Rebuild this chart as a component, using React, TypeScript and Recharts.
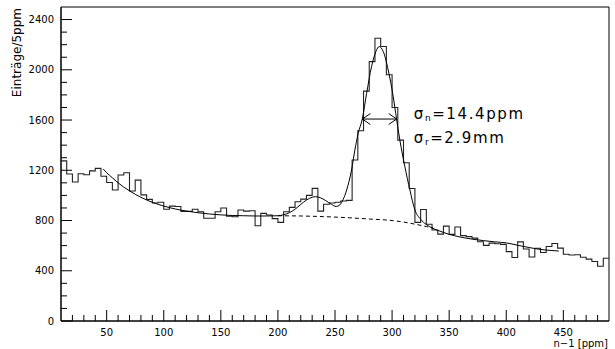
import React from 'react';
import {
  ComposedChart,
  Line,
  XAxis,
  YAxis,
  ReferenceArea,
  ReferenceLine,
  ReferenceDot,
} from 'recharts';

// Histogram bins (lower edges, 5 ppm wide) and entries per bin
const binLow = [
  10, 15, 20, 25, 30, 35, 40, 45, 50, 55, 60, 65, 70, 75, 80, 85, 90, 95,
  100, 105, 110, 115, 120, 125, 130, 135, 140, 145, 150, 155, 160, 165, 170, 175,
  180, 185, 190, 195, 200, 205, 210, 215, 220, 225, 230, 235, 240, 245, 250, 255,
  260, 265, 270, 275, 280, 285, 290, 295, 300, 305, 310, 315, 320, 325, 330, 335,
  340, 345, 350, 355, 360, 365, 370, 375, 380, 385, 390, 395, 400, 405, 410, 415,
  420, 425, 430, 435, 440, 445, 450, 455, 460, 465, 470, 475, 480, 485,
];
const binEnd = 490;
const counts = [
  1275, 1170, 1107, 1172, 1165, 1195, 1215, 1152, 1103, 1043, 1162, 1180, 1035, 1122, 1004, 968, 940, 945,
  890, 915, 912, 873, 873, 890, 870, 818, 818, 870, 900, 834, 830, 884, 875, 878,
  758, 857, 844, 815, 785, 870, 905, 950, 970, 1000, 1056, 875, 930, 940, 945, 955,
  960, 1282, 1515, 1830, 2065, 2251, 2185, 1960, 1700, 1440, 1260, 1055, 785, 888, 770, 725,
  692, 755, 690, 748, 680, 672, 660, 631, 602, 620, 615, 610, 552, 505, 630, 573,
  510, 579, 545, 593, 617, 580, 531, 525, 527, 508, 493, 474, 436, 500,
];

// Fit curve (signal + background)
const fitX = [
  47, 50, 55, 60, 70, 80, 90, 100, 110, 120, 130, 140, 150, 160, 170, 180, 190, 200,
  205, 210, 215, 220, 225, 230, 233, 237, 242, 247, 251, 254.3, 257, 260.2, 264.5, 267.4,
  270.3, 273.9, 277.7, 282, 285.8, 288.7, 292.3, 296.6, 301, 303.9, 306.8, 311.2, 315.6,
  320, 325, 330, 335, 340, 350, 360, 370, 380, 390, 400, 410, 420, 430, 440, 446,
];
const fitY = [
  1210, 1180, 1140, 1100, 1036, 985, 945, 915, 892, 875, 862, 852, 845, 840, 838, 836, 836, 838,
  846, 862, 890, 928, 963, 985, 990, 982, 958, 928, 912, 925, 965, 1043, 1202, 1361,
  1494, 1608, 1813, 2025, 2145, 2185, 2145, 1998, 1786, 1608, 1441, 1229, 1043,
  884, 810, 768, 741, 722, 690, 668, 652, 640, 630, 622, 603, 585, 570, 561, 557,
];

// Background-only part (dashed)
const bgX = [200, 220, 240, 260, 280, 300, 310, 320, 330, 336];
const bgY = [838, 836, 831, 823, 812, 800, 788, 771, 752, 739];

// Axis ticks
const xMajor = [50, 100, 150, 200, 250, 300, 350, 400, 450];
const xTicks = [
  20, 30, 40, 50, 60, 70, 80, 90, 100, 110, 120, 130, 140, 150, 160, 170, 180, 190, 200,
  210, 220, 230, 240, 250, 260, 270, 280, 290, 300, 310, 320, 330, 340, 350, 360, 370,
  380, 390, 400, 410, 420, 430, 440, 450, 460, 470, 480,
];
const yMajor = [0, 400, 800, 1200, 1600, 2000, 2400];
const yTicks = [
  0, 100, 200, 300, 400, 500, 600, 700, 800, 900, 1000, 1100, 1200, 1300, 1400, 1500,
  1600, 1700, 1800, 1900, 2000, 2100, 2200, 2300, 2400,
];

const histData = binLow.map((x, i) => ({ x, y: counts[i] })).concat([{ x: binEnd, y: counts[counts.length - 1] }]);
const fitData = fitX.map((x, i) => ({ x, y: fitY[i] }));
const bgData = bgX.map((x, i) => ({ x, y: bgY[i] }));

const FONT = 'DejaVu Sans';

const XTick = (props: any) => {
  const { x, y, payload } = props;
  const v = payload.value;
  const major = xMajor.includes(v);
  return (
    <g>
      <line x1={x} y1={y} x2={x} y2={y - (major ? 11 : 6)} stroke="#000" strokeWidth={1} />
      {major && (
        <text x={x} y={y + 15} textAnchor="middle" fontSize={10} fontFamily={FONT} fill="#000">
          {v}
        </text>
      )}
    </g>
  );
};

const YTick = (props: any) => {
  const { x, y, payload } = props;
  const v = payload.value;
  const major = yMajor.includes(v);
  return (
    <g>
      <line x1={x} y1={y} x2={x + (major ? 11 : 6)} y2={y} stroke="#000" strokeWidth={1} />
      {major && (
        <text x={x - 7} y={y} dy="0.36em" textAnchor="end" fontSize={10} fontFamily={FONT} fill="#000">
          {v}
        </text>
      )}
    </g>
  );
};

const ArrowShape = (props: any) => {
  const { x1, y1, x2, y2 } = props;
  const L = 8;
  const H = 5.5;
  return (
    <g stroke="#000" strokeWidth={1} fill="none">
      <line x1={x1} y1={y1} x2={x2} y2={y2} />
      <polyline points={`${x1 + L},${y1 - H} ${x1},${y1} ${x1 + L},${y1 + H}`} />
      <polyline points={`${x2 - L},${y2 - H} ${x2},${y2} ${x2 - L},${y2 + H}`} />
    </g>
  );
};

const makeLabel = (sub: string, rest: string) => (props: any) => {
  const { cx, cy } = props;
  return (
    <text x={cx} y={cy} fontSize={15} fontFamily={FONT} fill="#000" letterSpacing={1.6}>
      <tspan>σ</tspan>
      <tspan fontSize={9} dy={2}>{sub}</tspan>
      <tspan dy={-2}>{rest}</tspan>
    </text>
  );
};

const SigmaN = makeLabel('n', '=14.4ppm');
const SigmaR = makeLabel('r', '=2.9mm');

export default function App() {
  return (
    <div style={{ position: 'absolute', left: 0, top: 0, width: 615, height: 349, background: '#fff' }}>
      <ComposedChart
        width={615}
        height={349}
        data={histData}
        margin={{ top: 7, right: 6, bottom: 0, left: 8 }}
      >
        <XAxis
          type="number"
          dataKey="x"
          domain={[10, 490]}
          ticks={xTicks}
          interval={0}
          allowDataOverflow
          tickSize={0}
          tickMargin={0}
          tickLine={false}
          axisLine={{ stroke: '#000' }}
          tick={<XTick />}
          height={28}
        />
        <YAxis
          type="number"
          domain={[0, 2500]}
          ticks={yTicks}
          interval={0}
          allowDataOverflow
          tickSize={0}
          tickMargin={0}
          tickLine={false}
          axisLine={{ stroke: '#000' }}
          tick={<YTick />}
          width={53}
        />
        <ReferenceArea
          x1={10}
          x2={490}
          y1={0}
          y2={2500}
          fill="none"
          fillOpacity={0}
          stroke="#000"
          strokeWidth={1}
          ifOverflow="visible"
        />
        <Line
          type="stepAfter"
          dataKey="y"
          stroke="#222"
          strokeWidth={1.1}
          dot={false}
          activeDot={false}
          isAnimationActive={false}
        />
        <Line
          data={bgData}
          type="monotone"
          dataKey="y"
          stroke="#000"
          strokeWidth={1}
          strokeDasharray="4 3"
          dot={false}
          activeDot={false}
          isAnimationActive={false}
        />
        <Line
          data={fitData}
          type="monotone"
          dataKey="y"
          stroke="#000"
          strokeWidth={1}
          dot={false}
          activeDot={false}
          isAnimationActive={false}
        />
        <ReferenceLine
          segment={[{ x: 274, y: 1608 }, { x: 304, y: 1608 }]}
          shape={<ArrowShape />}
          ifOverflow="visible"
        />
        <ReferenceDot x={319} y={1606} r={0} shape={<SigmaN />} ifOverflow="visible" />
        <ReferenceDot x={319} y={1415} r={0} shape={<SigmaR />} ifOverflow="visible" />
        <text x={21} y={8} transform="rotate(-90 21 8)" textAnchor="end" fontSize={12} fontFamily={FONT} fill="#000">
          Einträge/5ppm
        </text>
        <text x={608} y={347} textAnchor="end" fontSize={10} fontFamily={FONT} fill="#000">
          n−1 [ppm]
        </text>
      </ComposedChart>
    </div>
  );
}
